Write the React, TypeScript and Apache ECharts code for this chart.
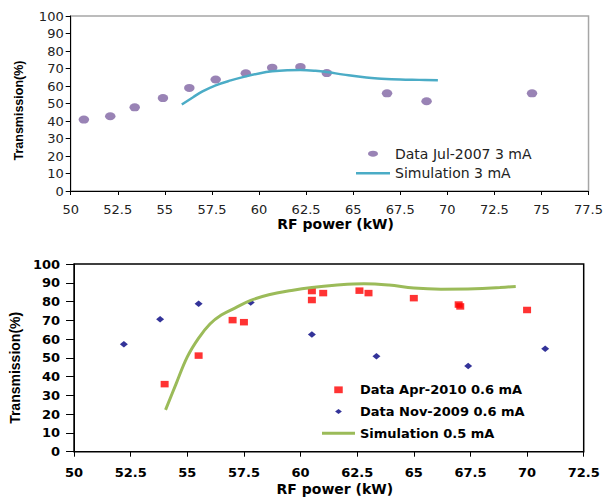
import React, { useEffect, useRef } from 'react';
import * as echarts from 'echarts';

// ---- Top chart data ----
const jul2007X = [50.7, 52.1, 53.4, 54.9, 56.3, 57.7, 59.3, 60.7, 62.2, 63.6, 66.8, 68.9, 74.5];
const jul2007Y = [40.8, 42.7, 47.8, 53.1, 58.9, 63.7, 67.3, 70.5, 70.9, 67.4, 55.8, 51.3, 55.8];

const sim3X = [55.9, 56.5, 57.0, 57.7, 58.5, 59.3, 60.0, 60.7, 61.5, 62.2, 63.0, 63.6, 64.5, 65.7, 66.5, 67.5, 68.5, 69.5];
const sim3Y = [49.4, 53.6, 56.9, 60.4, 63.2, 65.5, 67.2, 68.4, 69.0, 69.1, 68.7, 68.0, 66.5, 64.8, 64.2, 63.7, 63.5, 63.3];

// ---- Bottom chart data ----
const apr2010X = [54.0, 55.5, 57.0, 57.5, 60.5, 60.5, 61.0, 62.6, 63.0, 65.0, 66.98, 67.05, 70.0];
const apr2010Y = [36.0, 51.2, 70.1, 69.0, 80.8, 85.6, 84.5, 85.8, 84.5, 81.8, 78.4, 77.4, 75.5];

const nov2009X = [52.2, 53.8, 55.5, 57.8, 60.5, 63.35, 67.4, 70.8];
const nov2009Y = [57.3, 70.6, 78.8, 79.5, 62.4, 50.9, 45.7, 54.8];

const sim05X = [54.04, 54.5, 55.0, 55.5, 56.0, 56.5, 57.1, 57.8, 58.6, 59.6, 60.5, 61.5, 62.8, 63.9, 65.0, 66.2, 67.7, 68.8, 69.5];
const sim05Y = [22.3, 36.0, 50.5, 60.5, 68.0, 72.8, 76.5, 80.6, 83.6, 85.9, 87.5, 88.7, 89.5, 88.8, 87.2, 86.6, 86.8, 87.5, 88.0];

// ---- Axis ticks ----
const topXMin = 50, topXMax = 77.5;
const botXMin = 50, botXMax = 72.5;
const xInterval = 2.5;
const yMin = 0, yMax = 100, yInterval = 10;

const names = {
  jul: 'Data Jul-2007 3 mA',
  sim3: 'Simulation 3 mA',
  apr: 'Data Apr-2010 0.6 mA',
  nov: 'Data Nov-2009 0.6 mA',
  sim05: 'Simulation 0.5 mA',
};

const zip = (xs: number[], ys: number[]) => xs.map((x, i) => [x, ys[i]]);

const ellipse = 'path://M0,5A5,5,0,1,1,10,5A5,5,0,1,1,0,5Z';
const legendEllipse = 'path://M0,0M10,10M0,5A5,3,0,1,1,10,5A5,3,0,1,1,0,5Z';
const legendRect = 'path://M0,0M10,10M0,1L10,1L10,9L0,9Z';
const legendDiamond = 'path://M0,0M10,10M1,5L5,2L9,5L5,8Z';
const legendLineTop = 'path://M0,0L34,0L34,2.5L0,2.5Z';
const legendLineBot = 'path://M0,0L33,0L33,3L0,3Z';

const REG = 'DejaVu Sans';
const ARIAL = 'Liberation Sans';

function axisCommon(bold: boolean, labelMargin: number, tickLen: number) {
  return {
    axisLine: { show: true, onZero: false, lineStyle: { color: '#000', width: 1 } },
    axisTick: { show: true, inside: false, length: tickLen, lineStyle: { color: '#000', width: 1 } },
    splitLine: { show: false },
    axisLabel: {
      fontFamily: REG,
      fontSize: 13,
      fontWeight: bold ? 'bold' : 'normal',
      color: bold ? '#000' : '#222',
      margin: labelMargin,
    },
  };
}

export default function App() {
  const ref = useRef<HTMLDivElement>(null);
  useEffect(() => {
    const chart = echarts.init(ref.current!, null, { renderer: 'svg' });
    chart.setOption({
      animation: false,
      backgroundColor: '#fff',
      grid: [
        { left: 70.7, top: 16, width: 518, height: 175, show: true, borderColor: '#A6A6A6', borderWidth: 1.5, backgroundColor: 'transparent' },
        { left: 70.7, top: 264, width: 513, height: 187.7, show: true, borderColor: '#000', borderWidth: 1.5, backgroundColor: 'transparent' },
      ],
      xAxis: [
        {
          type: 'value', gridIndex: 0, min: topXMin, max: topXMax, interval: xInterval,
          ...axisCommon(false, 12, 4),
          name: 'RF power (kW)', nameLocation: 'middle', nameGap: 21,
          nameTextStyle: { fontFamily: REG, fontWeight: 'bold', fontSize: 14, color: '#000', padding: [0, 0, 0, 12] },
        },
        {
          type: 'value', gridIndex: 1, min: botXMin, max: botXMax, interval: xInterval,
          ...axisCommon(true, 14, 5),
          name: 'RF power (kW)', nameLocation: 'middle', nameGap: 30,
          nameTextStyle: { fontFamily: REG, fontWeight: 'bold', fontSize: 14, color: '#000', padding: [0, 0, 0, 12] },
        },
      ],
      yAxis: [
        {
          type: 'value', gridIndex: 0, min: yMin, max: yMax, interval: yInterval,
          ...axisCommon(false, 7, 5),
          name: 'Transmission(%)', nameLocation: 'middle', nameGap: 45,
          nameTextStyle: { fontFamily: ARIAL, fontWeight: 'bold', fontSize: 12.5, color: '#000', padding: [0, 14, 0, 0] },
        },
        {
          type: 'value', gridIndex: 1, min: yMin, max: yMax, interval: yInterval,
          ...axisCommon(true, 14, 8),
          name: 'Transmission(%)', nameLocation: 'middle', nameGap: 45,
          nameTextStyle: { fontFamily: ARIAL, fontWeight: 'bold', fontSize: 14, color: '#000', padding: [0, 20, 0, 0] },
        },
      ],
      legend: [
        {
          orient: 'vertical', left: 351, top: 141.7, itemWidth: 34, itemHeight: 10, itemGap: 5.6,
          data: [{ name: names.jul, icon: legendEllipse }, { name: names.sim3, icon: legendLineTop }],
          textStyle: { fontFamily: REG, fontSize: 14, color: '#222' },
        },
        {
          orient: 'vertical', left: 317, top: 378.3, itemWidth: 33, itemHeight: 8.5, itemGap: 8.7,
          data: [
            { name: names.apr, icon: legendRect },
            { name: names.nov, icon: legendDiamond },
            { name: names.sim05, icon: legendLineBot },
          ],
          textStyle: { fontFamily: REG, fontSize: 13, fontWeight: 'bold', color: '#000' },
        },
      ],
      series: [
        {
          name: names.jul, type: 'scatter', xAxisIndex: 0, yAxisIndex: 0,
          symbol: ellipse, symbolSize: [10.5, 8],
          itemStyle: { color: '#8064A2' },
          data: zip(jul2007X, jul2007Y),
        },
        {
          name: names.sim3, type: 'line', xAxisIndex: 0, yAxisIndex: 0,
          smooth: 0.4, symbol: 'none',
          lineStyle: { color: '#4BACC6', width: 2.5 },
          itemStyle: { color: '#4BACC6' },
          data: zip(sim3X, sim3Y),
        },
        {
          name: names.apr, type: 'scatter', xAxisIndex: 1, yAxisIndex: 1,
          symbol: 'rect', symbolSize: [8, 6.5],
          itemStyle: { color: '#FF0000' },
          data: zip(apr2010X, apr2010Y),
        },
        {
          name: names.nov, type: 'scatter', xAxisIndex: 1, yAxisIndex: 1,
          symbol: 'diamond', symbolSize: [8, 6.5],
          itemStyle: { color: '#000080' },
          data: zip(nov2009X, nov2009Y),
        },
        {
          name: names.sim05, type: 'line', xAxisIndex: 1, yAxisIndex: 1,
          smooth: 0.4, symbol: 'none',
          lineStyle: { color: '#9BBB59', width: 3 },
          itemStyle: { color: '#9BBB59' },
          data: zip(sim05X, sim05Y),
        },
      ],
    });
    return () => chart.dispose();
  }, []);
  return (
    <div
      ref={ref}
      style={{ position: 'fixed', left: 0, top: 0, width: 606, height: 498, background: '#fff' }}
    />
  );
}
